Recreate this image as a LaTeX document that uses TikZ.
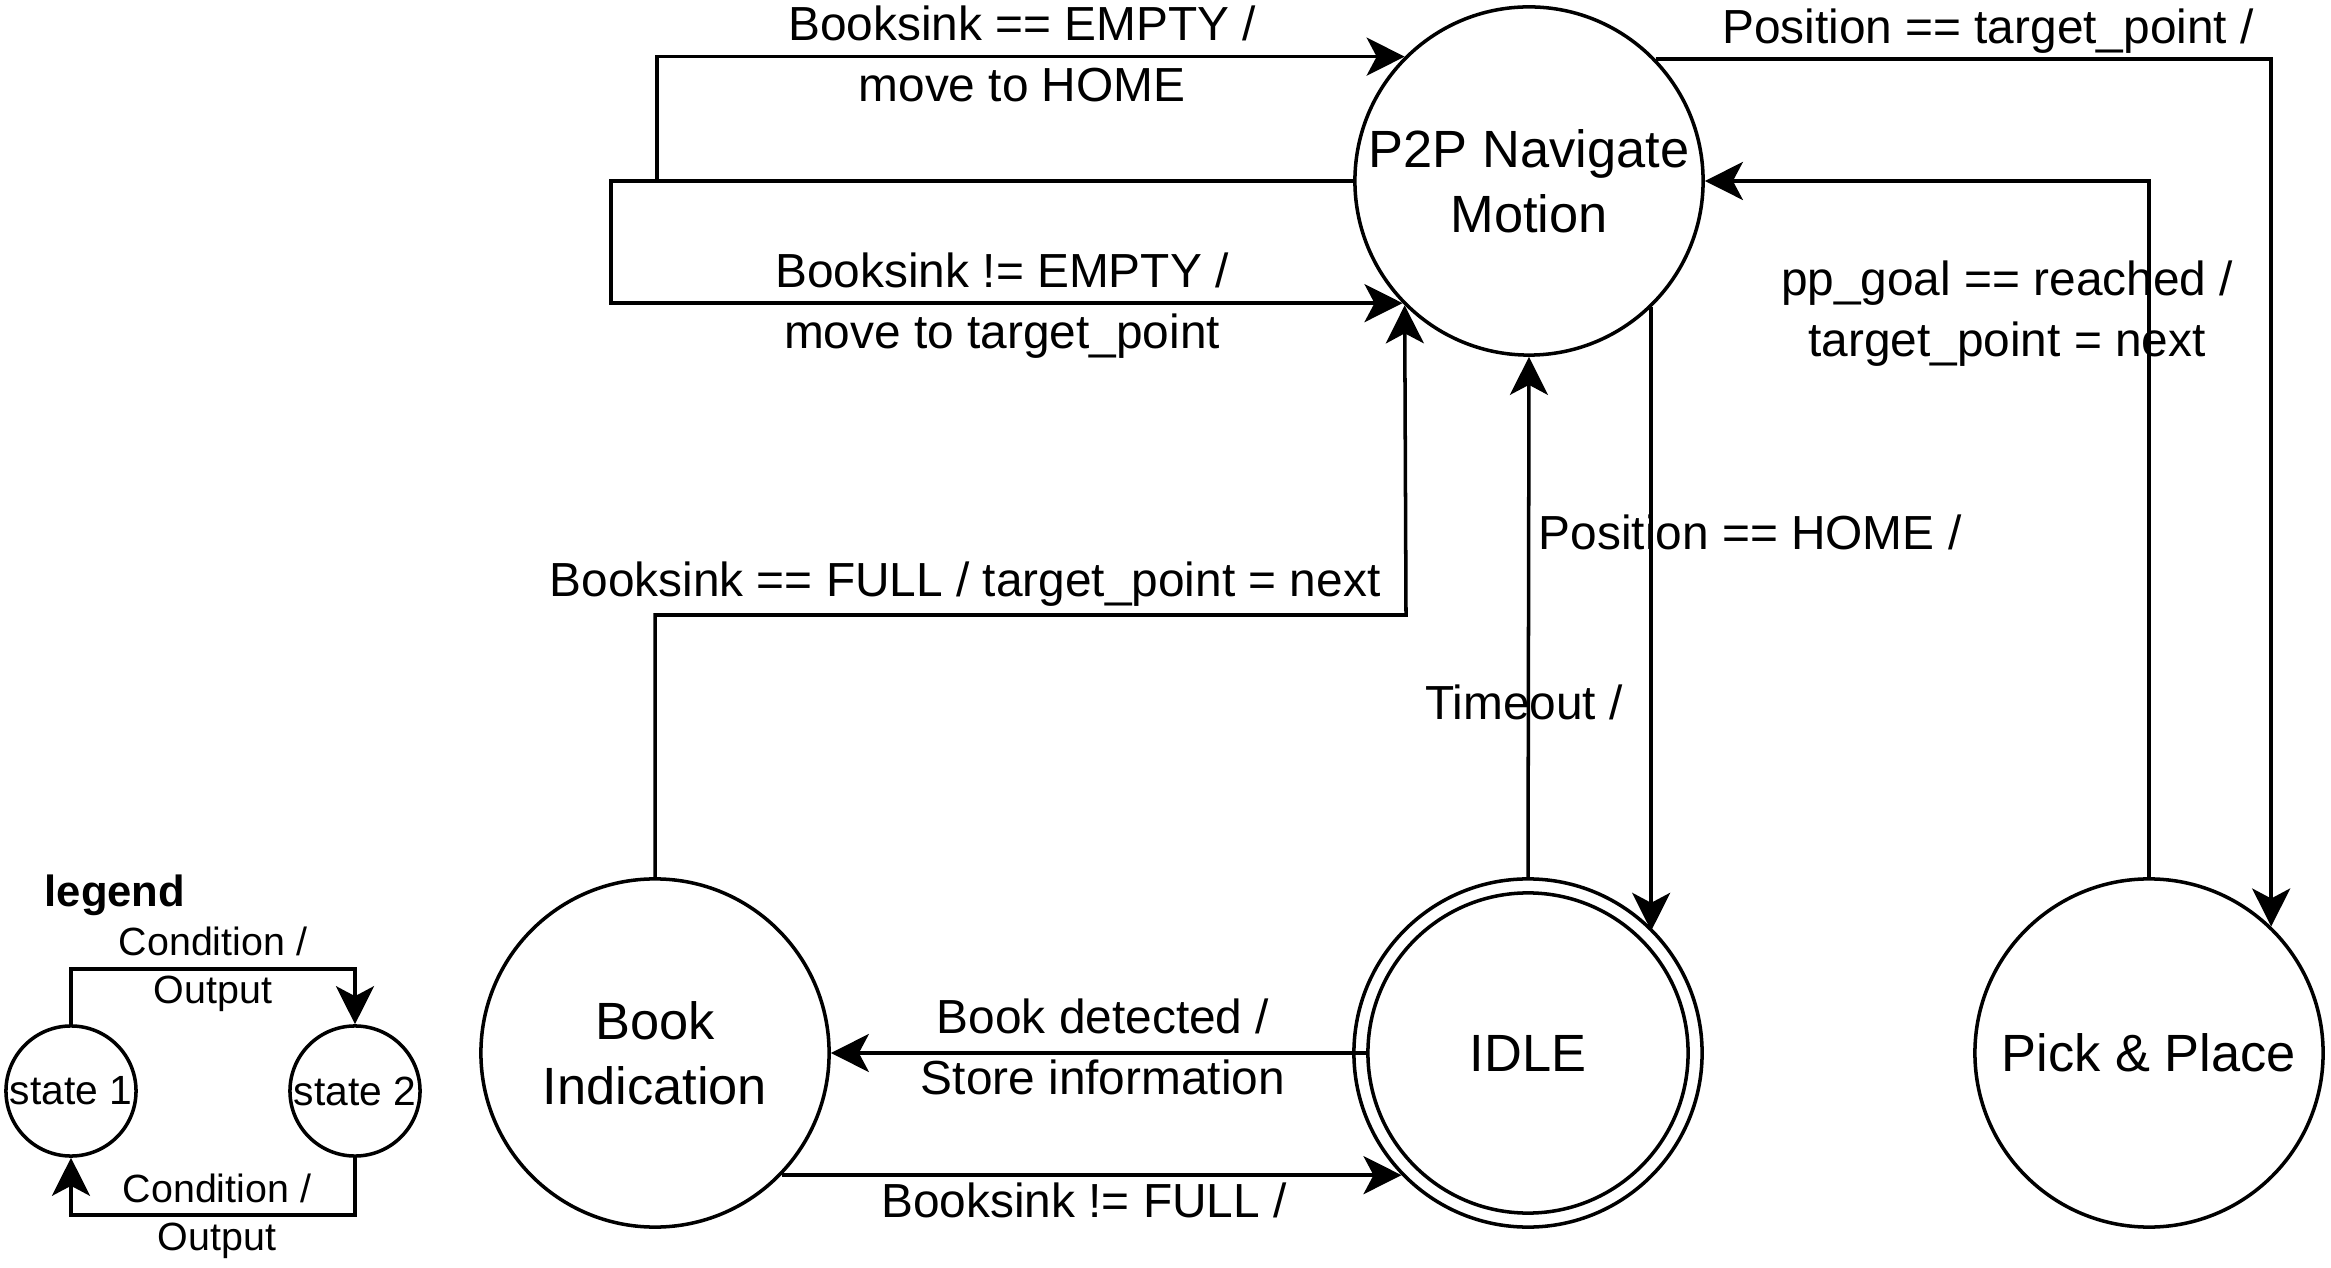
\documentclass[tikz,border=0pt]{standalone}
\usepackage{fontspec}
\setmainfont{Liberation Sans}
\usetikzlibrary{arrows.meta, positioning}

\begin{document}
\begin{tikzpicture}[x=0.01cm, y=-0.01cm]
\tikzstyle{stateblock}=[draw, circle, line width=1pt, minimum size=3.48cm, inner sep=0pt,
align=center, font=\fontsize{14.9}{18.5}\selectfont]
\tikzstyle{legendstate}=[draw, circle, line width=1pt, minimum size=1.3cm, inner sep=0pt,
font=\fontsize{11.6}{13}\selectfont]
\tikzstyle{lbl}=[inner sep=0pt, align=center, font=\fontsize{13.6}{17.4}\selectfont]
\tikzstyle{legendlbl}=[inner sep=0pt, align=center, font=\fontsize{11.2}{13.7}\selectfont]
\tikzstyle{trans}=[line width=1pt, -{Stealth[length=0.38cm, width=0.38cm, inset=0.1cm]}]

\useasboundingbox (0,0) rectangle (2331,1268);

% states
\node (p2p) at (1529,181) [stateblock] {P2P Navigate\\Motion};
\node (idle) at (1528,1053) [stateblock] {};
\node (idlein) at (idle) [stateblock, minimum size=3.2cm] {IDLE};
\node (book) at (655,1053) [stateblock] {Book\\Indication};
\node (pick) at (2149,1053) [stateblock] {Pick \& Place};

% transitions
\draw[trans] (p2p.west) -- (657,181) |- (p2p.135.7);
\draw[trans] (p2p.west) -- (611,181) |- (p2p.224.3);
\draw[trans] (p2p.44.3) -| (pick.46.1);
\draw[trans] (pick.north) |- (p2p.east);
\draw[trans] (p2p.314.3) -- (p2p.314.3 |- idle.44.8);
\draw[trans] (idle.north) -- (p2p.south);
\draw[trans] (book.north) |- (1406,615) -- (p2p.225.7);
\draw[trans] (idlein.west) -- (book.east);
\draw[trans] (book.-44.8) -- (idle.224.8);

% labels
\node (lblempty) at (1022,54) [lbl] {Booksink == EMPTY /\\move to HOME};
\node (lblnotempty) at (1002,306) [lbl] {Booksink != EMPTY /\\move to target\_point};
\node (lbltarget) at (1988,44) [lbl, anchor=base] {Position == target\_point /};
\node (lblgoal) at (2007,314) [lbl] {pp\_goal == reached /\\target\_point = next};
\node (lblhome) at (1750,550) [lbl, anchor=base] {Position == HOME /};
\node (lbltimeout) at (1524,720) [lbl, anchor=base] {Timeout /};
\node (lblfull) at (965,597) [lbl, anchor=base] {Booksink == FULL / target\_point = next};
\node (lbldetect) at (1103,1047) [lbl] {Book detected /\\Store information};
\node (lblnotfull) at (1084,1217) [lbl, anchor=base] {Booksink != FULL /};

% legend
\node (legend) at (115,907) [anchor=base, inner sep=0pt, font=\bfseries\fontsize{12.4}{14}\selectfont] {legend};
\node (s1) at (71,1091) [legendstate] {state 1};
\node (s2) at (355,1091) [legendstate] {state 2};
\draw[trans] (s1.north) -- ++(0,-55) -| (s2.north);
\draw[trans] (s2.south) -- ++(0,57) -| (s1.south);
\node (cond1) at (213,969) [legendlbl] {Condition /\\Output};
\node (cond2) at (217,1216) [legendlbl] {Condition /\\Output};

\end{tikzpicture}
\end{document}
